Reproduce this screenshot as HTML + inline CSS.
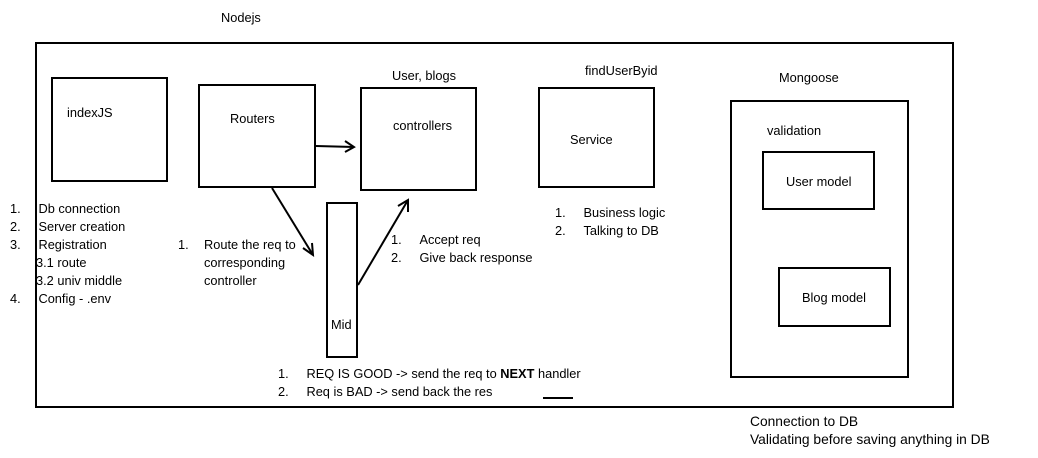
<!DOCTYPE html>
<html><head><meta charset="utf-8"><style>
body{margin:0;width:1038px;height:458px;background:#fff;position:relative;overflow:hidden;font-family:"Liberation Sans",sans-serif;font-size:12.8px;color:#000}
.b{position:absolute;border:2px solid #000;box-sizing:border-box}
.t{position:absolute;white-space:nowrap;line-height:18px}
</style></head><body>
<div class="b" style="left:35px;top:42px;width:919px;height:366px"></div>
<div class="b" style="left:51px;top:77px;width:117px;height:105px"></div>
<div class="b" style="left:198px;top:84px;width:118px;height:104px"></div>
<div class="b" style="left:360px;top:87px;width:117px;height:104px"></div>
<div class="b" style="left:538px;top:87px;width:117px;height:101px"></div>
<div class="b" style="left:730px;top:100px;width:179px;height:278px"></div>
<div class="b" style="left:762px;top:151px;width:113px;height:59px"></div>
<div class="b" style="left:778px;top:267px;width:113px;height:60px"></div>
<div class="b" style="left:326px;top:202px;width:32px;height:156px"></div>
<svg width="1038" height="458" style="position:absolute;left:0;top:0">
<g stroke="#000" stroke-width="2" fill="none">
<line x1="316" y1="146" x2="354" y2="147"/><polyline points="345,141 354,147 345,152"/>
<line x1="272" y1="188" x2="313" y2="255"/><polyline points="303,248 313,255 312,243"/>
<line x1="358" y1="285" x2="408" y2="200"/><polyline points="398,206 408,200 408,212"/>
<line x1="543" y1="398" x2="573" y2="398"/>
</g></svg>
<div class="t" style="left:221px;top:9px">Nodejs</div>
<div class="t" style="left:67px;top:104px">indexJS</div>
<div class="t" style="left:230px;top:110px">Routers</div>
<div class="t" style="left:392px;top:67px">User, blogs</div>
<div class="t" style="left:393px;top:117px">controllers</div>
<div class="t" style="left:585px;top:62px">findUserByid</div>
<div class="t" style="left:570px;top:131px">Service</div>
<div class="t" style="left:779px;top:69px">Mongoose</div>
<div class="t" style="left:767px;top:122px">validation</div>
<div class="t" style="left:786px;top:173px">User model</div>
<div class="t" style="left:802px;top:289px">Blog model</div>
<div class="t" style="left:331px;top:316px">Mid</div>
<div class="t" style="left:10px;top:200px">1.&nbsp;&nbsp;&nbsp;&nbsp;&nbsp;Db connection<br>2.&nbsp;&nbsp;&nbsp;&nbsp;&nbsp;Server creation<br>3.&nbsp;&nbsp;&nbsp;&nbsp;&nbsp;Registration</div>
<div class="t" style="left:36px;top:254px">3.1 route<br>3.2 univ middle</div>
<div class="t" style="left:10px;top:290px">4.&nbsp;&nbsp;&nbsp;&nbsp;&nbsp;Config - .env</div>
<div class="t" style="left:178px;top:236px">1.</div>
<div class="t" style="left:204px;top:236px">Route the req to<br>corresponding<br>controller</div>
<div class="t" style="left:391px;top:231px">1.&nbsp;&nbsp;&nbsp;&nbsp;&nbsp;Accept req<br>2.&nbsp;&nbsp;&nbsp;&nbsp;&nbsp;Give back response</div>
<div class="t" style="left:555px;top:204px">1.&nbsp;&nbsp;&nbsp;&nbsp;&nbsp;Business logic<br>2.&nbsp;&nbsp;&nbsp;&nbsp;&nbsp;Talking to DB</div>
<div class="t" style="left:278px;top:365px">1.&nbsp;&nbsp;&nbsp;&nbsp;&nbsp;REQ IS GOOD -&gt; send the req to <b>NEXT</b> handler<br>2.&nbsp;&nbsp;&nbsp;&nbsp;&nbsp;Req is BAD -&gt; send back the res</div>
<div class="t" style="left:750px;top:413px;font-size:13.8px">Connection to DB<br>Validating before saving anything in DB</div>
</body></html>
